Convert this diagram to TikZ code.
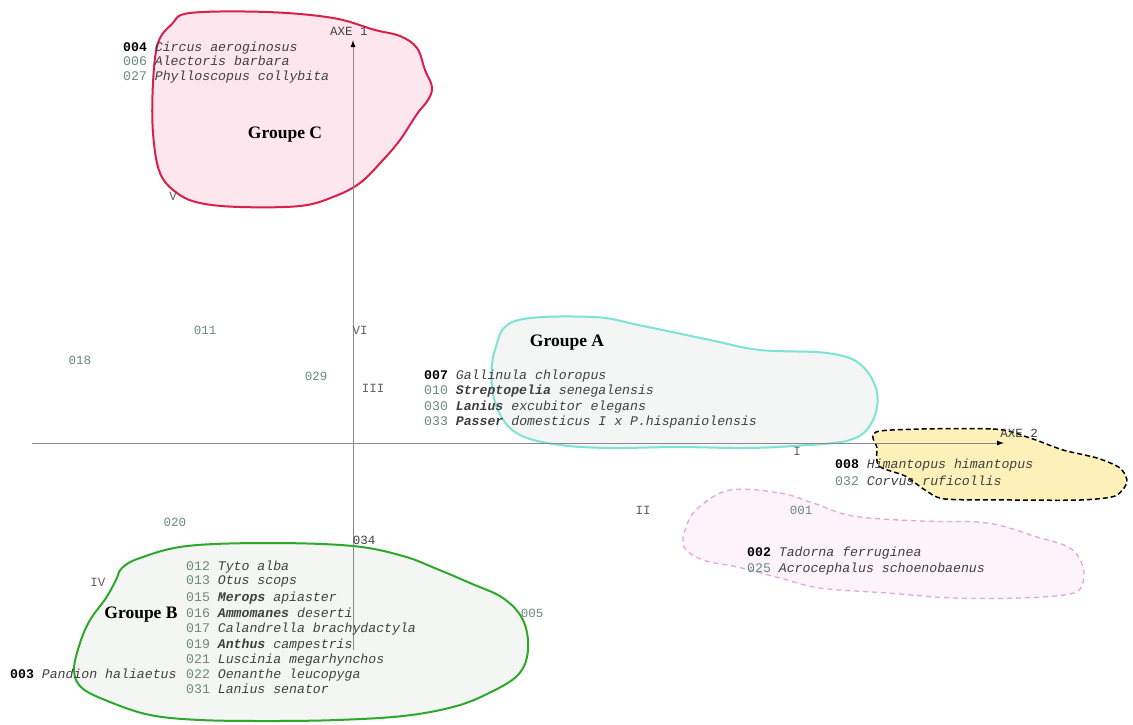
\documentclass[tikz,border=0pt]{standalone}
\usepackage{fontspec}
\setmainfont{Liberation Serif}
\setmonofont{Liberation Mono}
\usetikzlibrary{arrows.meta}
\definecolor{redline}{HTML}{D9204A}
\definecolor{redfill}{HTML}{FDE6EE}
\definecolor{cyanline}{HTML}{7DE3D3}
\definecolor{cyanfill}{HTML}{F4F6F5}
\definecolor{yelfill}{HTML}{FDF0B8}
\definecolor{pinkline}{HTML}{E8A6D8}
\definecolor{pinkfill}{HTML}{FDF3FB}
\definecolor{greenline}{HTML}{2EA82A}
\definecolor{greenfill}{HTML}{F3F6F3}
\definecolor{axisgray}{HTML}{8A8A8A}
\definecolor{numc}{HTML}{6A8A80}
\definecolor{spc}{HTML}{404040}
\definecolor{romc}{HTML}{606060}
\newcommand\bnum[1]{{\color{black}\bfseries #1}}
\newcommand\gnum[1]{{\color{numc}#1}}
\newcommand\spname[1]{\textit{#1}}
\newcommand\spbold[1]{\textit{\bfseries #1}}
\begin{document}
\begin{tikzpicture}[x=1pt,y=-1pt,
  lbl/.style={font=\ttfamily\fontsize{13.2}{15}\selectfont, anchor=base west, inner sep=0, text=spc},
  tag/.style={font=\ttfamily\fontsize{12.5}{14}\selectfont, inner sep=0, text=romc},
  grp/.style={font=\bfseries\fontsize{17.5}{20}\selectfont, inner sep=0, text=black},
  axisline/.style={draw=axisgray, line width=0.9pt, -{Latex[length=7pt,width=5pt,color=black]}},
  blob/.style={line width=2pt}]
\useasboundingbox (0,0) rectangle (1133,724);
\fill[white] (0,0) rectangle (1133,724);

% Groupe C
\draw[blob, draw=redline, fill=redfill] plot[smooth cycle, tension=0.6] coordinates {
 (190,13) (267,12) (333,18) (375,30) (400,36) (417,48) (425,70) (432,87) (428,100)
 (417,114) (400,140) (383,160) (360,183) (333,197) (300,206) (240,207) (200,203)
 (177,193) (160,173) (153,133) (153,83) (158,43) (172,24)};
% Groupe A
\draw[blob, draw=cyanline, fill=cyanfill] plot[smooth cycle, tension=0.6] coordinates {
 (515,321) (593,317) (643,326) (710,340) (760,350) (827,353) (860,364) (877,392)
 (872,422) (850,440) (793,446) (743,448) (677,447) (610,448) (560,445) (522,436)
 (502,418) (492,387) (495,350)};
% yellow dashed group
\draw[line width=1.5pt, draw=black, dash pattern=on 5pt off 3pt, fill=yelfill]
 plot[smooth cycle, tension=0.45] coordinates {
 (880,431) (993,429) (1030,438) (1063,450) (1097,458) (1120,468) (1127,482)
 (1115,496) (1080,500) (1013,500) (945,499) (925,490) (905,476) (879,466) (877,448)};
% pink dashed group
\draw[line width=1.3pt, draw=pinkline, dash pattern=on 5pt off 4pt, fill=pinkfill]
 plot[smooth cycle, tension=0.6] coordinates {
 (730,490) (780,493) (813,503) (853,516) (920,521) (987,523) (1037,537) (1070,548)
 (1083,567) (1082,585) (1070,594) (1020,598) (953,598) (887,593) (820,588) (780,578)
 (737,567) (703,560) (684,547) (686,527) (698,508)};
% Groupe B
\draw[blob, draw=greenline, fill=greenfill] plot[smooth cycle, tension=0.6] coordinates {
 (187,546) (270,543) (353,546) (403,556) (437,569) (470,583) (503,598) (523,620)
 (528,650) (518,675) (487,694) (453,707) (403,716) (337,720) (270,721) (200,720)
 (150,715) (110,702) (82,688) (74,670) (80,643) (90,620) (106,598) (116,580)
 (122,568) (140,558)};

% axes
\coordinate (xs) at (32,443);
\coordinate (xe) at (1004,443);
\coordinate (ys) at (353,650);
\coordinate (ye) at (353,40);
\draw[axisline] (xs) -- (xe);
\draw[axisline] (ys) -- (ye);
\node[tag, text=spc] (ax1) at (349,31) {AXE 1};
\node[tag, text=spc] (ax2) at (1019,433) {AXE 2};

% group labels
\node[grp] (gC) at (285,135) {Groupe C};
\node[grp] (gA) at (567,343) {Groupe A};
\node[grp] (gB) at (141,615) {Groupe B};

% roman numerals
\node[tag] (rV) at (173,196) {V};
\node[tag] (rVI) at (360,330) {VI};
\node[tag] (rIII) at (373,388) {III};
\node[tag] (rI) at (797,451) {I};
\node[tag] (rII) at (643,510) {II};
\node[tag] (rIV) at (98,582) {IV};

% isolated numbers
\node[tag, text=numc] (n011) at (205,330) {011};
\node[tag, text=numc] (n018) at (80,360) {018};
\node[tag, text=numc] (n029) at (316,376) {029};
\node[tag, text=numc] (n020) at (175,522) {020};
\node[tag, text=spc] (n034) at (364,540) {034};
\node[tag, text=numc] (n005) at (532,613) {005};
\node[tag, text=numc] (n001) at (801,510) {001};

% Groupe C list
\node[lbl] (c004) at (123,51) {\bnum{004} \spname{Circus aeroginosus}};
\node[lbl] (c006) at (123,65) {\gnum{006} \spname{Alectoris barbara}};
\node[lbl] (c027) at (123,80) {\gnum{027} \spname{Phylloscopus collybita}};

% Groupe A list
\node[lbl] (a007) at (424,379) {\bnum{007} \spname{Gallinula chloropus}};
\node[lbl] (a010) at (424,394) {\gnum{010} \spbold{Streptopelia} \spname{senegalensis}};
\node[lbl] (a030) at (424,410) {\gnum{030} \spbold{Lanius} \spname{excubitor elegans}};
\node[lbl] (a033) at (424,425) {\gnum{033} \spbold{Passer} \spname{domesticus I x P.hispaniolensis}};

% yellow group list
\node[lbl] (y008) at (835,468) {\bnum{008} \spname{Himantopus himantopus}};
\node[lbl] (y032) at (835,485) {\gnum{032} \spname{Corvus ruficollis}};

% pink group list
\node[lbl] (p002) at (747,556) {\bnum{002} \spname{Tadorna ferruginea}};
\node[lbl] (p025) at (747,572) {\gnum{025} \spname{Acrocephalus schoenobaenus}};

% Groupe B list
\node[lbl] (b012) at (186,570) {\gnum{012} \spname{Tyto alba}};
\node[lbl] (b013) at (186,584) {\gnum{013} \spname{Otus scops}};
\node[lbl] (b015) at (186,601) {\gnum{015} \spbold{Merops} \spname{apiaster}};
\node[lbl] (b016) at (186,617) {\gnum{016} \spbold{Ammomanes} \spname{deserti}};
\node[lbl] (b017) at (186,632) {\gnum{017} \spname{Calandrella brachydactyla}};
\node[lbl] (b019) at (186,648) {\gnum{019} \spbold{Anthus} \spname{campestris}};
\node[lbl] (b021) at (186,663) {\gnum{021} \spname{Luscinia megarhynchos}};
\node[lbl] (b022) at (186,678) {\gnum{022} \spname{Oenanthe leucopyga}};
\node[lbl] (b031) at (186,693) {\gnum{031} \spname{Lanius senator}};
\node[lbl] (b003) at (10,678) {\bnum{003} \spname{Pandion haliaetus}};
\end{tikzpicture}
\end{document}
